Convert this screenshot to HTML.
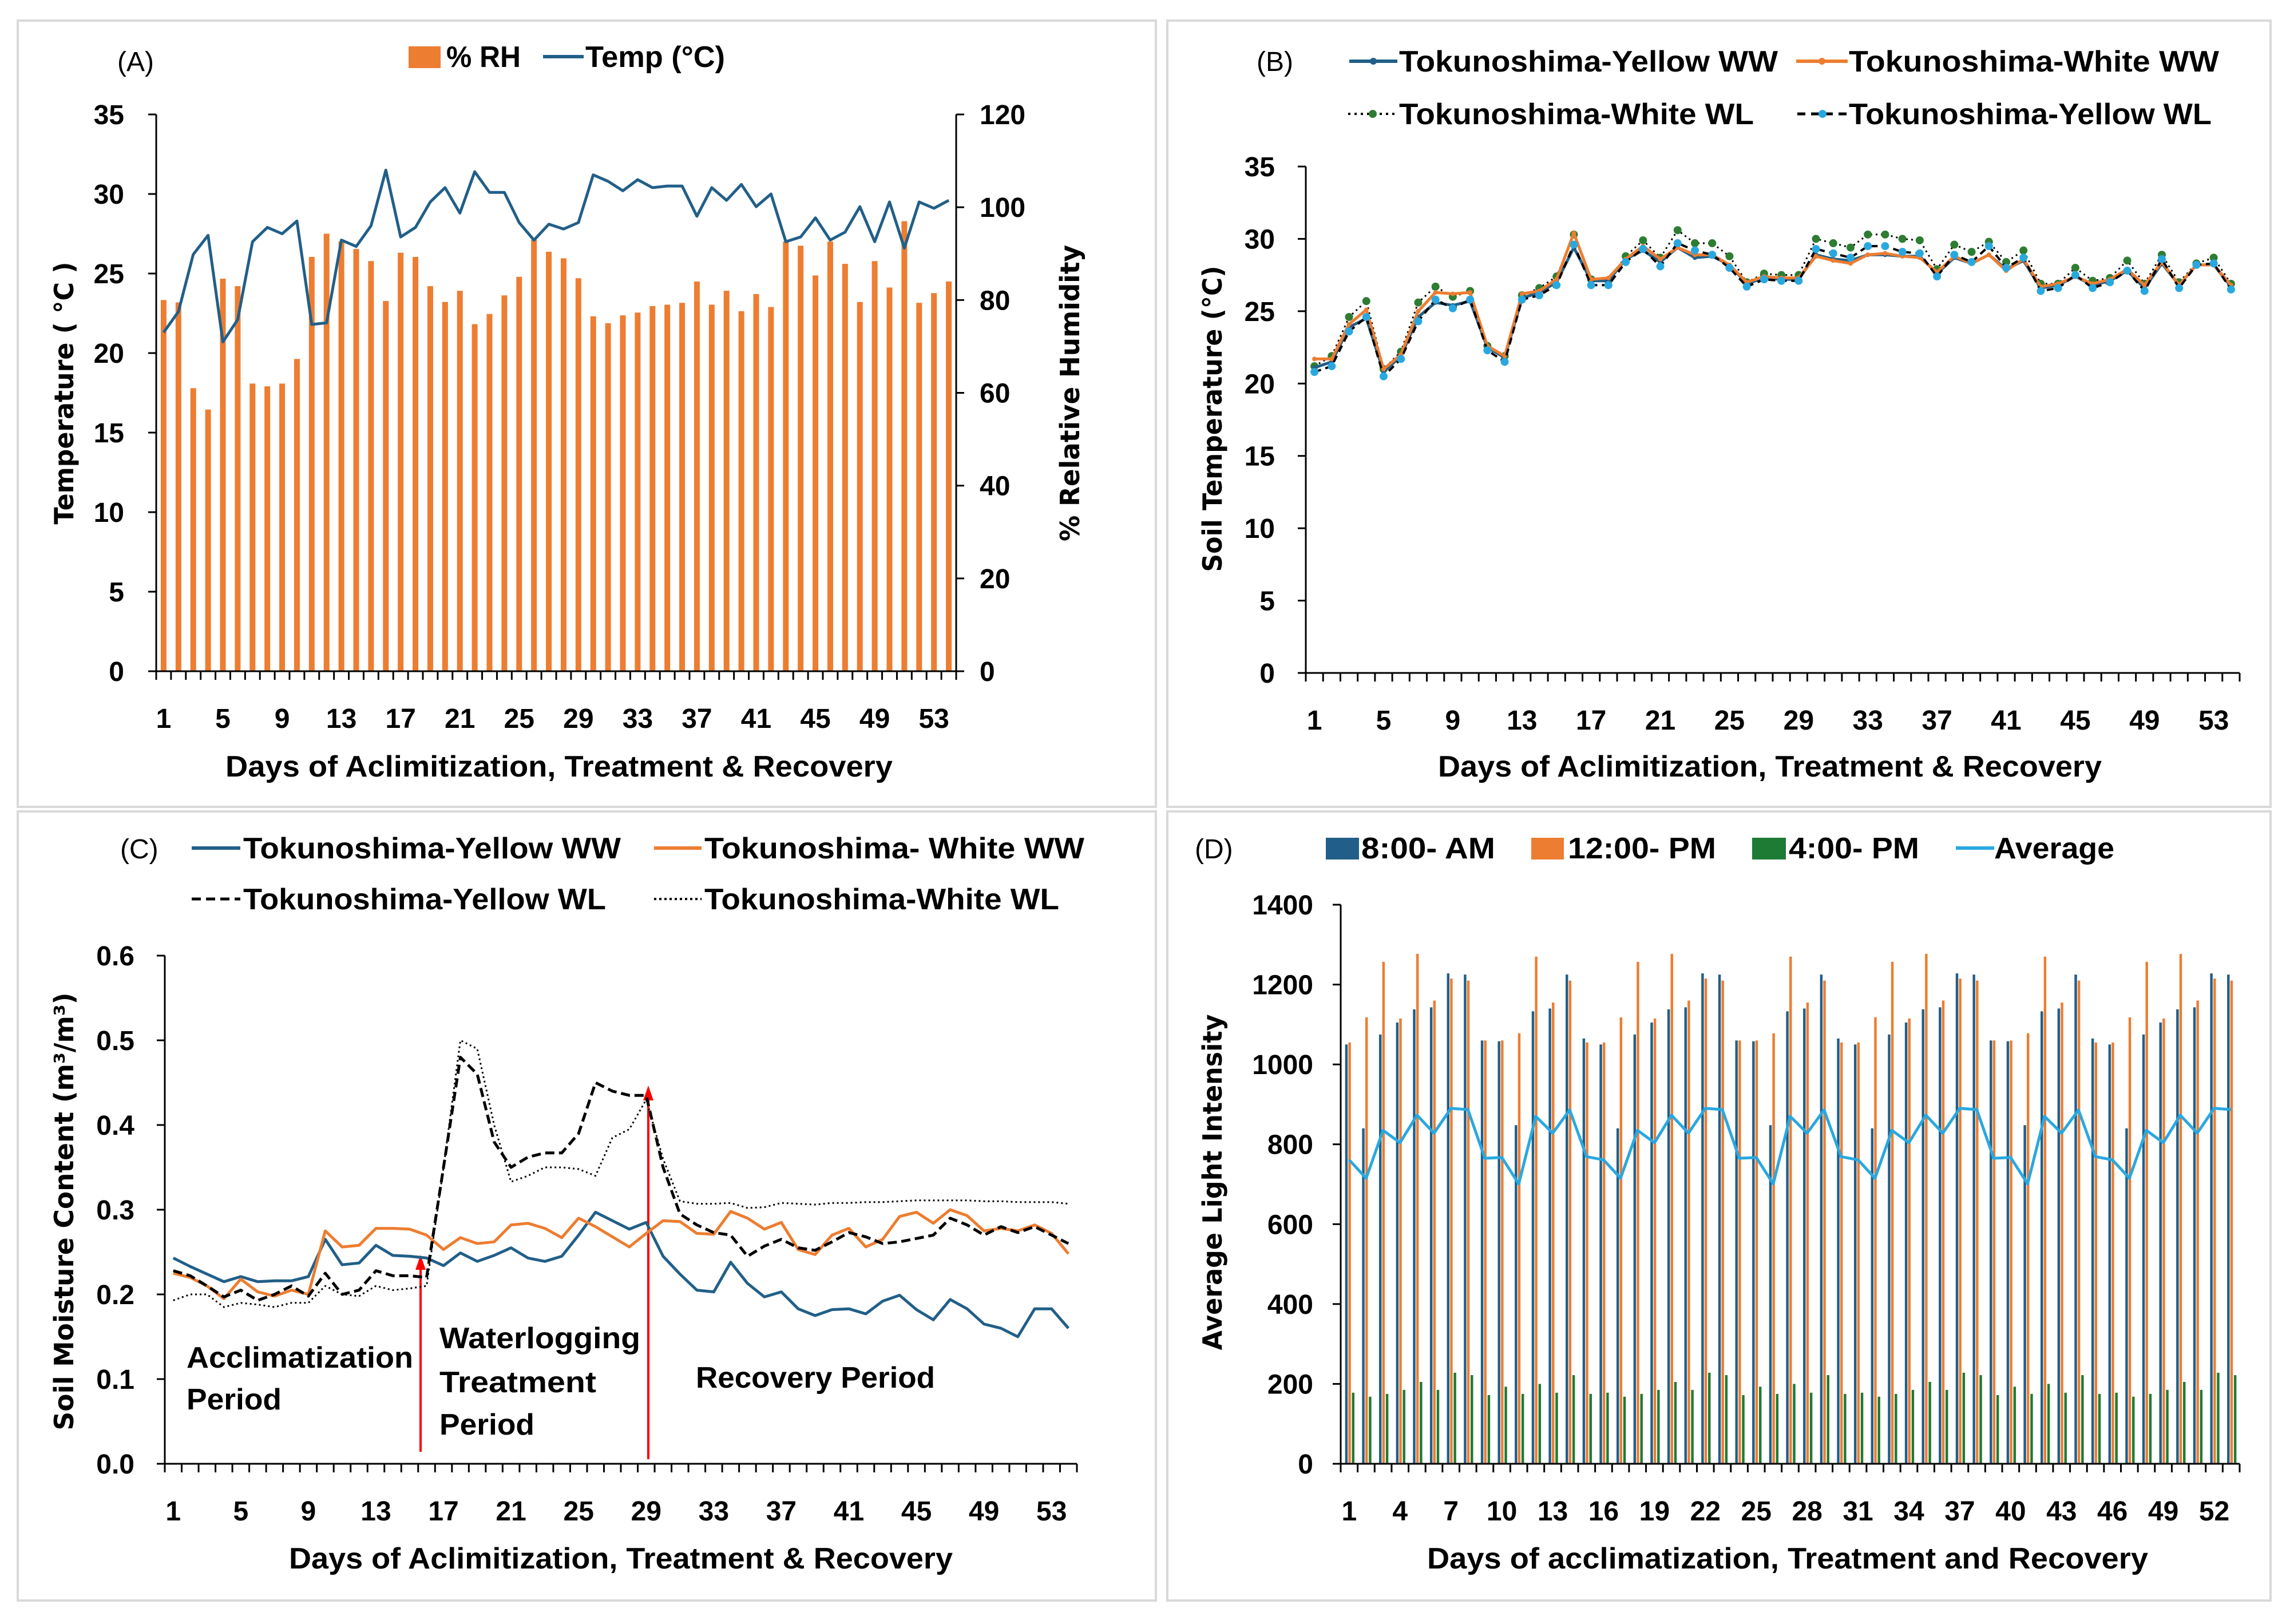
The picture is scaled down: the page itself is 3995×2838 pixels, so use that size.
<!DOCTYPE html>
<html><head><meta charset="utf-8"><style>
html,body{margin:0;padding:0;background:#fff;}
svg{display:block;}
text{font-family:"Liberation Sans",sans-serif;font-weight:bold;fill:#000;}
.yt{font-family:"DejaVu Sans","Liberation Sans",sans-serif;}
</style></head><body>
<svg id="fig" width="3995" height="2838" viewBox="0 0 3995 2838" xmlns="http://www.w3.org/2000/svg">
<rect x="0" y="0" width="3995" height="2838" fill="#fff"/>
<rect x="31" y="36" width="1989" height="1374" fill="none" stroke="#d9d9d9" stroke-width="4"/>
<rect x="2040" y="36" width="1928" height="1374" fill="none" stroke="#d9d9d9" stroke-width="4"/>
<rect x="31" y="1418" width="1989" height="1379" fill="none" stroke="#d9d9d9" stroke-width="4"/>
<rect x="2040" y="1418" width="1928" height="1379" fill="none" stroke="#d9d9d9" stroke-width="4"/>

<!-- Panel A static -->
<text x="205" y="124" font-size="48" style="font-weight:normal">(A)</text>
<rect x="714" y="81" width="56" height="38" fill="#ED7D31"/>
<text x="780" y="117" font-size="52" textLength="130" lengthAdjust="spacingAndGlyphs">% RH</text>
<line x1="949" y1="99" x2="1020" y2="99" stroke="#215F88" stroke-width="6"/>
<text x="1023" y="117" font-size="52" textLength="244" lengthAdjust="spacingAndGlyphs">Temp (°C)</text>
<text class="yt" transform="translate(128,687) rotate(-90)" text-anchor="middle" font-size="46" textLength="459" lengthAdjust="spacingAndGlyphs">Temperature ( °C )</text>
<text class="yt" transform="translate(1886,687) rotate(-90)" text-anchor="middle" font-size="46" textLength="518" lengthAdjust="spacingAndGlyphs">% Relative Humidity</text>
<text x="977" y="1357" text-anchor="middle" font-size="52" textLength="1166" lengthAdjust="spacingAndGlyphs">Days of Aclimitization, Treatment &amp; Recovery</text>

<!-- Panel B static -->
<text x="2196" y="124" font-size="48" style="font-weight:normal">(B)</text>
<g>
<line x1="2358" y1="107" x2="2442" y2="107" stroke="#215F88" stroke-width="6"/><circle cx="2400" cy="107" r="6" fill="#215F88"/>
<text x="2445" y="125" font-size="52" textLength="662" lengthAdjust="spacingAndGlyphs">Tokunoshima-Yellow WW</text></g>
<g>
<line x1="3139" y1="107" x2="3229" y2="107" stroke="#ED7D31" stroke-width="6"/><circle cx="3184" cy="107" r="6" fill="#ED7D31"/>
<text x="3231" y="125" font-size="52" textLength="647" lengthAdjust="spacingAndGlyphs">Tokunoshima-White WW</text></g>
<g>
<line x1="2356" y1="199" x2="2442" y2="199" stroke="#000" stroke-width="4" stroke-dasharray="4 7"/><circle cx="2399" cy="199" r="7" fill="#2E7D32"/>
<text x="2445" y="217" font-size="52" textLength="620" lengthAdjust="spacingAndGlyphs">Tokunoshima-White WL</text></g>
<g>
<line x1="3141" y1="199" x2="3229" y2="199" stroke="#000" stroke-width="5" stroke-dasharray="14 10"/><circle cx="3185" cy="199" r="7" fill="#29A8E0"/>
<text x="3231" y="217" font-size="52" textLength="634" lengthAdjust="spacingAndGlyphs">Tokunoshima-Yellow WL</text></g>
<text class="yt" transform="translate(2135,732) rotate(-90)" text-anchor="middle" font-size="46" textLength="535" lengthAdjust="spacingAndGlyphs">Soil Temperature (°C)</text>
<text x="3093" y="1357" text-anchor="middle" font-size="52" textLength="1160" lengthAdjust="spacingAndGlyphs">Days of Aclimitization, Treatment &amp; Recovery</text>

<!-- Panel C static -->
<text x="210" y="1500" font-size="48" style="font-weight:normal">(C)</text>
<g><line x1="335" y1="1482" x2="420" y2="1482" stroke="#215F88" stroke-width="6"/>
<text x="425" y="1500" font-size="52" textLength="660" lengthAdjust="spacingAndGlyphs">Tokunoshima-Yellow WW</text></g>
<g><line x1="1143" y1="1482" x2="1226" y2="1482" stroke="#ED7D31" stroke-width="6"/>
<text x="1231" y="1500" font-size="52" textLength="664" lengthAdjust="spacingAndGlyphs">Tokunoshima- White WW</text></g>
<g><line x1="335" y1="1571" x2="420" y2="1571" stroke="#000" stroke-width="5" stroke-dasharray="16 9"/>
<text x="425" y="1589" font-size="52" textLength="634" lengthAdjust="spacingAndGlyphs">Tokunoshima-Yellow WL</text></g>
<g><line x1="1143" y1="1571" x2="1226" y2="1571" stroke="#000" stroke-width="4" stroke-dasharray="4 5"/>
<text x="1231" y="1589" font-size="52" textLength="620" lengthAdjust="spacingAndGlyphs">Tokunoshima-White WL</text></g>
<text class="yt" transform="translate(128,2117) rotate(-90)" text-anchor="middle" font-size="46" textLength="765" lengthAdjust="spacingAndGlyphs">Soil Moisture Content (m³/m³)</text>
<text x="1085" y="2741" text-anchor="middle" font-size="52" textLength="1160" lengthAdjust="spacingAndGlyphs">Days of Aclimitization, Treatment &amp; Recovery</text>
<text x="326" y="2390" font-size="52" textLength="396" lengthAdjust="spacingAndGlyphs">Acclimatization</text>
<text x="326" y="2463" font-size="52" textLength="166" lengthAdjust="spacingAndGlyphs">Period</text>
<text x="768" y="2356" font-size="52" textLength="351" lengthAdjust="spacingAndGlyphs">Waterlogging</text>
<text x="768" y="2433" font-size="52" textLength="274" lengthAdjust="spacingAndGlyphs">Treatment</text>
<text x="768" y="2507" font-size="52" textLength="166" lengthAdjust="spacingAndGlyphs">Period</text>
<text x="1216" y="2425" font-size="52" textLength="418" lengthAdjust="spacingAndGlyphs">Recovery Period</text>
<g><line x1="735" y1="2537" x2="735" y2="2215" stroke="#FF0000" stroke-width="4"/><polygon points="735,2193 726,2219 744,2219" fill="#FF0000"/></g>
<g><line x1="1133" y1="2550" x2="1133" y2="1919" stroke="#FF0000" stroke-width="4"/><polygon points="1133,1897 1124,1923 1142,1923" fill="#FF0000"/></g>

<!-- Panel D static -->
<text x="2088" y="1500" font-size="48" style="font-weight:normal">(D)</text>
<rect x="2317" y="1464" width="58" height="38" fill="#215F88"/>
<text x="2379" y="1500" font-size="52" textLength="234" lengthAdjust="spacingAndGlyphs">8:00- AM</text>
<rect x="2676" y="1464" width="57" height="38" fill="#ED7D31"/>
<text x="2740" y="1500" font-size="52" textLength="259" lengthAdjust="spacingAndGlyphs">12:00- PM</text>
<rect x="3062" y="1464" width="59" height="38" fill="#1E7B34"/>
<text x="3126" y="1500" font-size="52" textLength="228" lengthAdjust="spacingAndGlyphs">4:00- PM</text>
<line x1="3418" y1="1482" x2="3485" y2="1482" stroke="#29A8E0" stroke-width="6"/>
<text x="3485" y="1500" font-size="52" textLength="210" lengthAdjust="spacingAndGlyphs">Average</text>
<text class="yt" transform="translate(2135,2066) rotate(-90)" text-anchor="middle" font-size="46" textLength="587" lengthAdjust="spacingAndGlyphs">Average Light Intensity</text>
<text x="3124" y="2741" text-anchor="middle" font-size="52" textLength="1260" lengthAdjust="spacingAndGlyphs">Days of acclimatization, Treatment  and Recovery</text>
</svg>
<script>
// ---------- Panel A data ----------
const aRH = [80,79.5,61,56.4,84.6,83,62,61.4,62,67.3,89.3,94.3,92.6,91,88.4,79.8,90.2,89.3,83,79.6,82,74.8,77,81,85,93,90.4,89,84.7,76.5,75,76.7,77.3,78.7,79,79.4,84,79,82,77.6,81.3,78.5,92.6,91.7,85.3,92.6,87.8,79.6,88.4,82.7,97,79.4,81.5,84];
const aTemp = [21.3,22.6,26.2,27.4,20.7,22.1,27,27.9,27.5,28.3,21.8,21.9,27.1,26.7,28,31.5,27.3,27.9,29.5,30.4,28.8,31.4,30.1,30.1,28.2,27.1,28.1,27.8,28.2,31.2,30.8,30.2,30.9,30.4,30.5,30.5,28.6,30.4,29.6,30.6,29.2,30,27,27.3,28.5,27.1,27.6,29.2,27,29.5,26.6,29.5,29.1,29.6];
const aLeftTicks = [0,5,10,15,20,25,30,35];
const aRightTicks = [0,20,40,60,80,100,120];
const aXLabels = [1,5,9,13,17,21,25,29,33,37,41,45,49,53];
// ---------- Panel B data ----------
const bYellowWW = [21.1,21.5,23.9,24.5,20.8,21.9,24.6,25.6,25.4,25.7,22.5,21.8,25.9,26.3,27,29.4,27.1,27.1,28.6,29.2,28.4,29.4,28.7,28.8,28.2,26.9,27.3,27.2,27.2,28.9,28.6,28.5,28.9,28.9,28.8,28.8,27.6,28.7,28.3,28.9,27.9,28.5,26.6,26.8,27.4,26.8,27.1,27.8,26.6,28.3,26.8,28.2,28.2,26.7];
const bWhiteWW = [21.7,21.7,24.1,25.1,21,22,25,26.3,26.2,26.3,22.6,21.9,26.2,26.4,27.2,30.4,27.2,27.3,28.6,29.5,28.6,29.4,28.9,28.9,28.2,27,27.4,27.3,27.3,28.8,28.5,28.3,28.9,29,28.8,28.7,27.7,28.8,28.3,28.9,27.8,28.6,26.7,26.9,27.4,26.9,27.2,27.9,26.8,28.4,26.8,28.2,28.2,26.8];
const bWhiteWL = [21.2,21.9,24.6,25.7,21,22.2,25.6,26.7,26,26.4,22.6,21.9,26.1,26.6,27.4,30.3,27.2,27.1,28.8,29.9,28.7,30.6,29.7,29.7,28.8,27,27.6,27.5,27.5,30,29.7,29.4,30.3,30.3,30,29.9,27.9,29.6,29.1,29.8,28.4,29.2,26.9,26.9,28,27.1,27.3,28.5,26.9,28.9,27,28.3,28.7,26.9];
const bYellowWL = [20.8,21.2,23.6,24.6,20.5,21.7,24.3,25.8,25.2,25.8,22.3,21.5,25.8,26.1,26.8,29.6,26.8,26.8,28.4,29.3,28.1,29.7,29.2,28.9,28,26.7,27.2,27.1,27.1,29.3,29,28.7,29.5,29.5,29.1,29,27.4,28.9,28.4,29.5,28,28.7,26.4,26.6,27.5,26.6,27,27.8,26.4,28.6,26.6,28.2,28.3,26.5];
const bYTicks = [0,5,10,15,20,25,30,35];
const bXLabels = [1,5,9,13,17,21,25,29,33,37,41,45,49,53];
// ---------- Panel C data ----------
const cYellowWW = [0.243,0.233,0.224,0.215,0.221,0.215,0.216,0.216,0.221,0.265,0.235,0.237,0.258,0.246,0.245,0.243,0.234,0.249,0.239,0.246,0.255,0.243,0.239,0.245,0.27,0.297,0.287,0.277,0.285,0.245,0.224,0.205,0.203,0.238,0.213,0.197,0.203,0.183,0.175,0.182,0.183,0.177,0.192,0.199,0.182,0.17,0.194,0.183,0.165,0.16,0.15,0.183,0.183,0.16];
const cWhiteWW = [0.225,0.22,0.21,0.195,0.218,0.203,0.198,0.205,0.2,0.275,0.256,0.258,0.278,0.278,0.277,0.27,0.253,0.267,0.26,0.262,0.282,0.284,0.278,0.267,0.29,0.28,0.268,0.256,0.272,0.287,0.286,0.272,0.271,0.298,0.29,0.277,0.285,0.253,0.247,0.27,0.278,0.256,0.265,0.292,0.297,0.284,0.3,0.293,0.275,0.278,0.275,0.282,0.272,0.248];
const cYellowWL = [0.228,0.222,0.21,0.197,0.205,0.193,0.2,0.21,0.198,0.225,0.2,0.205,0.228,0.222,0.222,0.22,0.35,0.48,0.46,0.38,0.35,0.362,0.367,0.367,0.39,0.45,0.44,0.435,0.435,0.35,0.295,0.282,0.273,0.27,0.245,0.257,0.265,0.255,0.252,0.262,0.273,0.268,0.26,0.262,0.266,0.27,0.29,0.282,0.27,0.28,0.273,0.28,0.27,0.26];
const cWhiteWL = [0.193,0.2,0.2,0.185,0.19,0.188,0.185,0.19,0.19,0.21,0.2,0.198,0.21,0.205,0.207,0.21,0.35,0.5,0.49,0.4,0.333,0.34,0.35,0.35,0.348,0.34,0.385,0.395,0.43,0.36,0.31,0.307,0.307,0.308,0.302,0.303,0.308,0.307,0.306,0.308,0.308,0.309,0.309,0.31,0.311,0.311,0.311,0.311,0.31,0.31,0.309,0.309,0.309,0.307];
const cYTicks = [0,0.1,0.2,0.3,0.4,0.5,0.6];
const cYTickLabels = ["0.0","0.1","0.2","0.3","0.4","0.5","0.6"];
const cXLabels = [1,5,9,13,17,21,25,29,33,37,41,45,49,53];
// ---------- Panel D data ----------
const dAM = [1050,840,1075,1105,1138,1143,1228,1225,1060,1058,848,1133,1140,1225,1065,1050,840,1075,1105,1138,1143,1228,1225,1060,1058,848,1133,1140,1225,1065,1050,840,1075,1105,1138,1143,1228,1225,1060,1058,848,1133,1140,1225,1065,1050,840,1075,1105,1138,1143,1228,1225];
const dPM = [1055,1118,1257,1115,1277,1160,1215,1210,1060,1060,1078,1270,1155,1210,1055,1055,1118,1257,1115,1277,1160,1215,1210,1060,1060,1078,1270,1155,1210,1055,1055,1118,1257,1115,1277,1160,1215,1210,1060,1060,1078,1270,1155,1210,1055,1055,1118,1257,1115,1277,1160,1215,1210];
const d4PM = [178,168,175,185,205,185,228,222,172,193,175,200,178,222,175,178,168,175,185,205,185,228,222,172,193,175,200,178,222,175,178,168,175,185,205,185,228,222,172,193,175,200,178,222,175,178,168,175,185,205,185,228,222];
const dAvg = [761,715,835,804,873,828,890,887,765,767,701,870,828,886,769,761,715,835,804,873,828,890,887,765,767,701,870,828,886,769,761,715,835,804,873,828,890,887,765,767,701,870,828,886,769,761,715,835,804,873,828,890,887];
const dYTicks = [0,200,400,600,800,1000,1200,1400];
const dXLabels = [1,4,7,10,13,16,19,22,25,28,31,34,37,40,43,46,49,52];

const NS = 'http://www.w3.org/2000/svg';
const svg = document.getElementById('fig');
function mk(tag, attrs, parent) {
  const e = document.createElementNS(NS, tag);
  for (const k in attrs) e.setAttribute(k, attrs[k]);
  (parent || svg).appendChild(e);
  return e;
}
function makeAxes(cfg) {
  cfg.x = i => cfg.x0 + (i + 0.5) * (cfg.x1 - cfg.x0) / cfg.n;
  cfg.y = v => cfg.yBot - v / cfg.max * (cfg.yBot - cfg.yTop);
  return cfg;
}
function drawFrame(ax, name, yTicks, yLabels, xLabels, yLabelX) {
  const g = mk('g', {});
  
  
  mk('line', {x1: ax.x0, y1: ax.yTop, x2: ax.x0, y2: ax.yBot, stroke: '#000', 'stroke-width': 3}, g);
  mk('line', {x1: ax.x0, y1: ax.yBot, x2: ax.x1, y2: ax.yBot, stroke: '#000', 'stroke-width': 3}, g);
  yTicks.forEach((v, i) => {
    const yy = ax.y(v);
    mk('line', {x1: ax.x0 - 14, y1: yy, x2: ax.x0, y2: yy, stroke: '#000', 'stroke-width': 3}, g);
    const t = mk('text', {x: yLabelX, y: yy + 17, 'text-anchor': 'end', 'font-size': 48}, g);
    t.textContent = yLabels[i];
    
    
  });
  const w = (ax.x1 - ax.x0) / ax.n;
  for (let i = 0; i <= ax.n; i++) {
    const xx = ax.x0 + i * w;
    mk('line', {x1: xx, y1: ax.yBot, x2: xx, y2: ax.yBot + 15, stroke: '#000', 'stroke-width': 3}, g);
  }
  xLabels.forEach(d => {
    const t = mk('text', {x: ax.x(d - 1), y: ax.yBot + 99, 'text-anchor': 'middle', 'font-size': 48}, g);
    t.textContent = d;
    
    
  });
  return g;
}
function pathD(ax, vals) {
  return vals.map((v, i) => (i ? 'L' : 'M') + ax.x(i).toFixed(1) + ',' + ax.y(v).toFixed(1)).join(' ');
}

// ===== Panel A =====
const axA = makeAxes({x0: 273, x1: 1671, yTop: 200, yBot: 1173, n: 54, max: 35});
const axAR = makeAxes({x0: 273, x1: 1671, yTop: 200, yBot: 1173, n: 54, max: 120});
const gBarsA = mk('g', {});


aRH.forEach((v, i) => {
  const b = mk('rect', {x: axAR.x(i) - 5, y: axAR.y(v), width: 10, height: axAR.yBot - axAR.y(v), fill: '#ED7D31'}, gBarsA);
  
  
});
drawFrame(axA, 'panel-a', aLeftTicks, aLeftTicks, aXLabels, 217);
const gR = mk('g', {});


mk('line', {x1: 1671, y1: 200, x2: 1671, y2: 1173, stroke: '#000', 'stroke-width': 3}, gR);
aRightTicks.forEach(v => {
  const yy = axAR.y(v);
  mk('line', {x1: 1671, y1: yy, x2: 1685, y2: yy, stroke: '#000', 'stroke-width': 3}, gR);
  const t = mk('text', {x: 1712, y: yy + 17, 'font-size': 48}, gR);
  t.textContent = v;
  
  
});
const tempLine = mk('path', {d: pathD(axA, aTemp), fill: 'none', stroke: '#215F88', 'stroke-width': 5, 'stroke-linejoin': 'round'});



// ===== Panel B =====
const axB = makeAxes({x0: 2282, x1: 3914, yTop: 291, yBot: 1176, n: 54, max: 35});
drawFrame(axB, 'panel-b', bYTicks, bYTicks, bXLabels, 2228);
function seriesB(vals, name, stroke, width, dash, mColor, mr) {
  const g = mk('g', {});
  
  
  const p = {d: pathD(axB, vals), fill: 'none', stroke: stroke, 'stroke-width': width, 'stroke-linejoin': 'round'};
  if (dash) p['stroke-dasharray'] = dash;
  mk('path', p, g);
  vals.forEach((v, i) => {
    const c = mk('circle', {cx: axB.x(i), cy: axB.y(v), r: mr, fill: mColor}, g);
    
    
  });
}
seriesB(bWhiteWL, 'white-wl-soil-temp', '#000', 3, '3 6', '#2E7D32', 7);
seriesB(bYellowWW, 'yellow-ww-soil-temp', '#215F88', 5, null, '#215F88', 4);
seriesB(bWhiteWW, 'white-ww-soil-temp', '#ED7D31', 5, null, '#ED7D31', 4);
seriesB(bYellowWL, 'yellow-wl-soil-temp', '#000', 4, '12 8', '#29A8E0', 7);

// ===== Panel C =====
const axC = makeAxes({x0: 288, x1: 1882, yTop: 1670, yBot: 2558, n: 54, max: 0.6});
drawFrame(axC, 'panel-c', cYTicks, cYTickLabels, cXLabels, 235);
function seriesC(vals, name, stroke, width, dash) {
  const p = {d: pathD(axC, vals), fill: 'none', stroke: stroke, 'stroke-width': width, 'stroke-linejoin': 'round'};
  if (dash) p['stroke-dasharray'] = dash;
  const e = mk('path', p);
  
  
}
seriesC(cYellowWW, 'yellow-ww-moisture', '#215F88', 5, null);
seriesC(cWhiteWW, 'white-ww-moisture', '#ED7D31', 5, null);
seriesC(cYellowWL, 'yellow-wl-moisture', '#000', 5, '16 8');
seriesC(cWhiteWL, 'white-wl-moisture', '#000', 3, '3 5');

// ===== Panel D =====
const axD = makeAxes({x0: 2343, x1: 3914, yTop: 1581, yBot: 2558, n: 53, max: 1400});
const wD = (axD.x1 - axD.x0) / axD.n;
const gBarsD = mk('g', {});


function barD(v, i, off, color, name) {
  const left = axD.x0 + i * wD + off * wD;
  const b = mk('rect', {x: left, y: axD.y(v), width: wD * 0.15, height: axD.yBot - axD.y(v), fill: color}, gBarsD);
  
  
}
dAM.forEach((v, i) => barD(v, i, 0.26, '#215F88', 'bar-8am'));
dPM.forEach((v, i) => barD(v, i, 0.45, '#ED7D31', 'bar-12pm'));
d4PM.forEach((v, i) => barD(v, i, 0.66, '#1E7B34', 'bar-4pm'));
drawFrame(axD, 'panel-d', dYTicks, dYTicks, dXLabels, 2295);
const avgLine = mk('path', {d: pathD(axD, dAvg), fill: 'none', stroke: '#29A8E0', 'stroke-width': 5, 'stroke-linejoin': 'round'});


</script>
</body></html>
